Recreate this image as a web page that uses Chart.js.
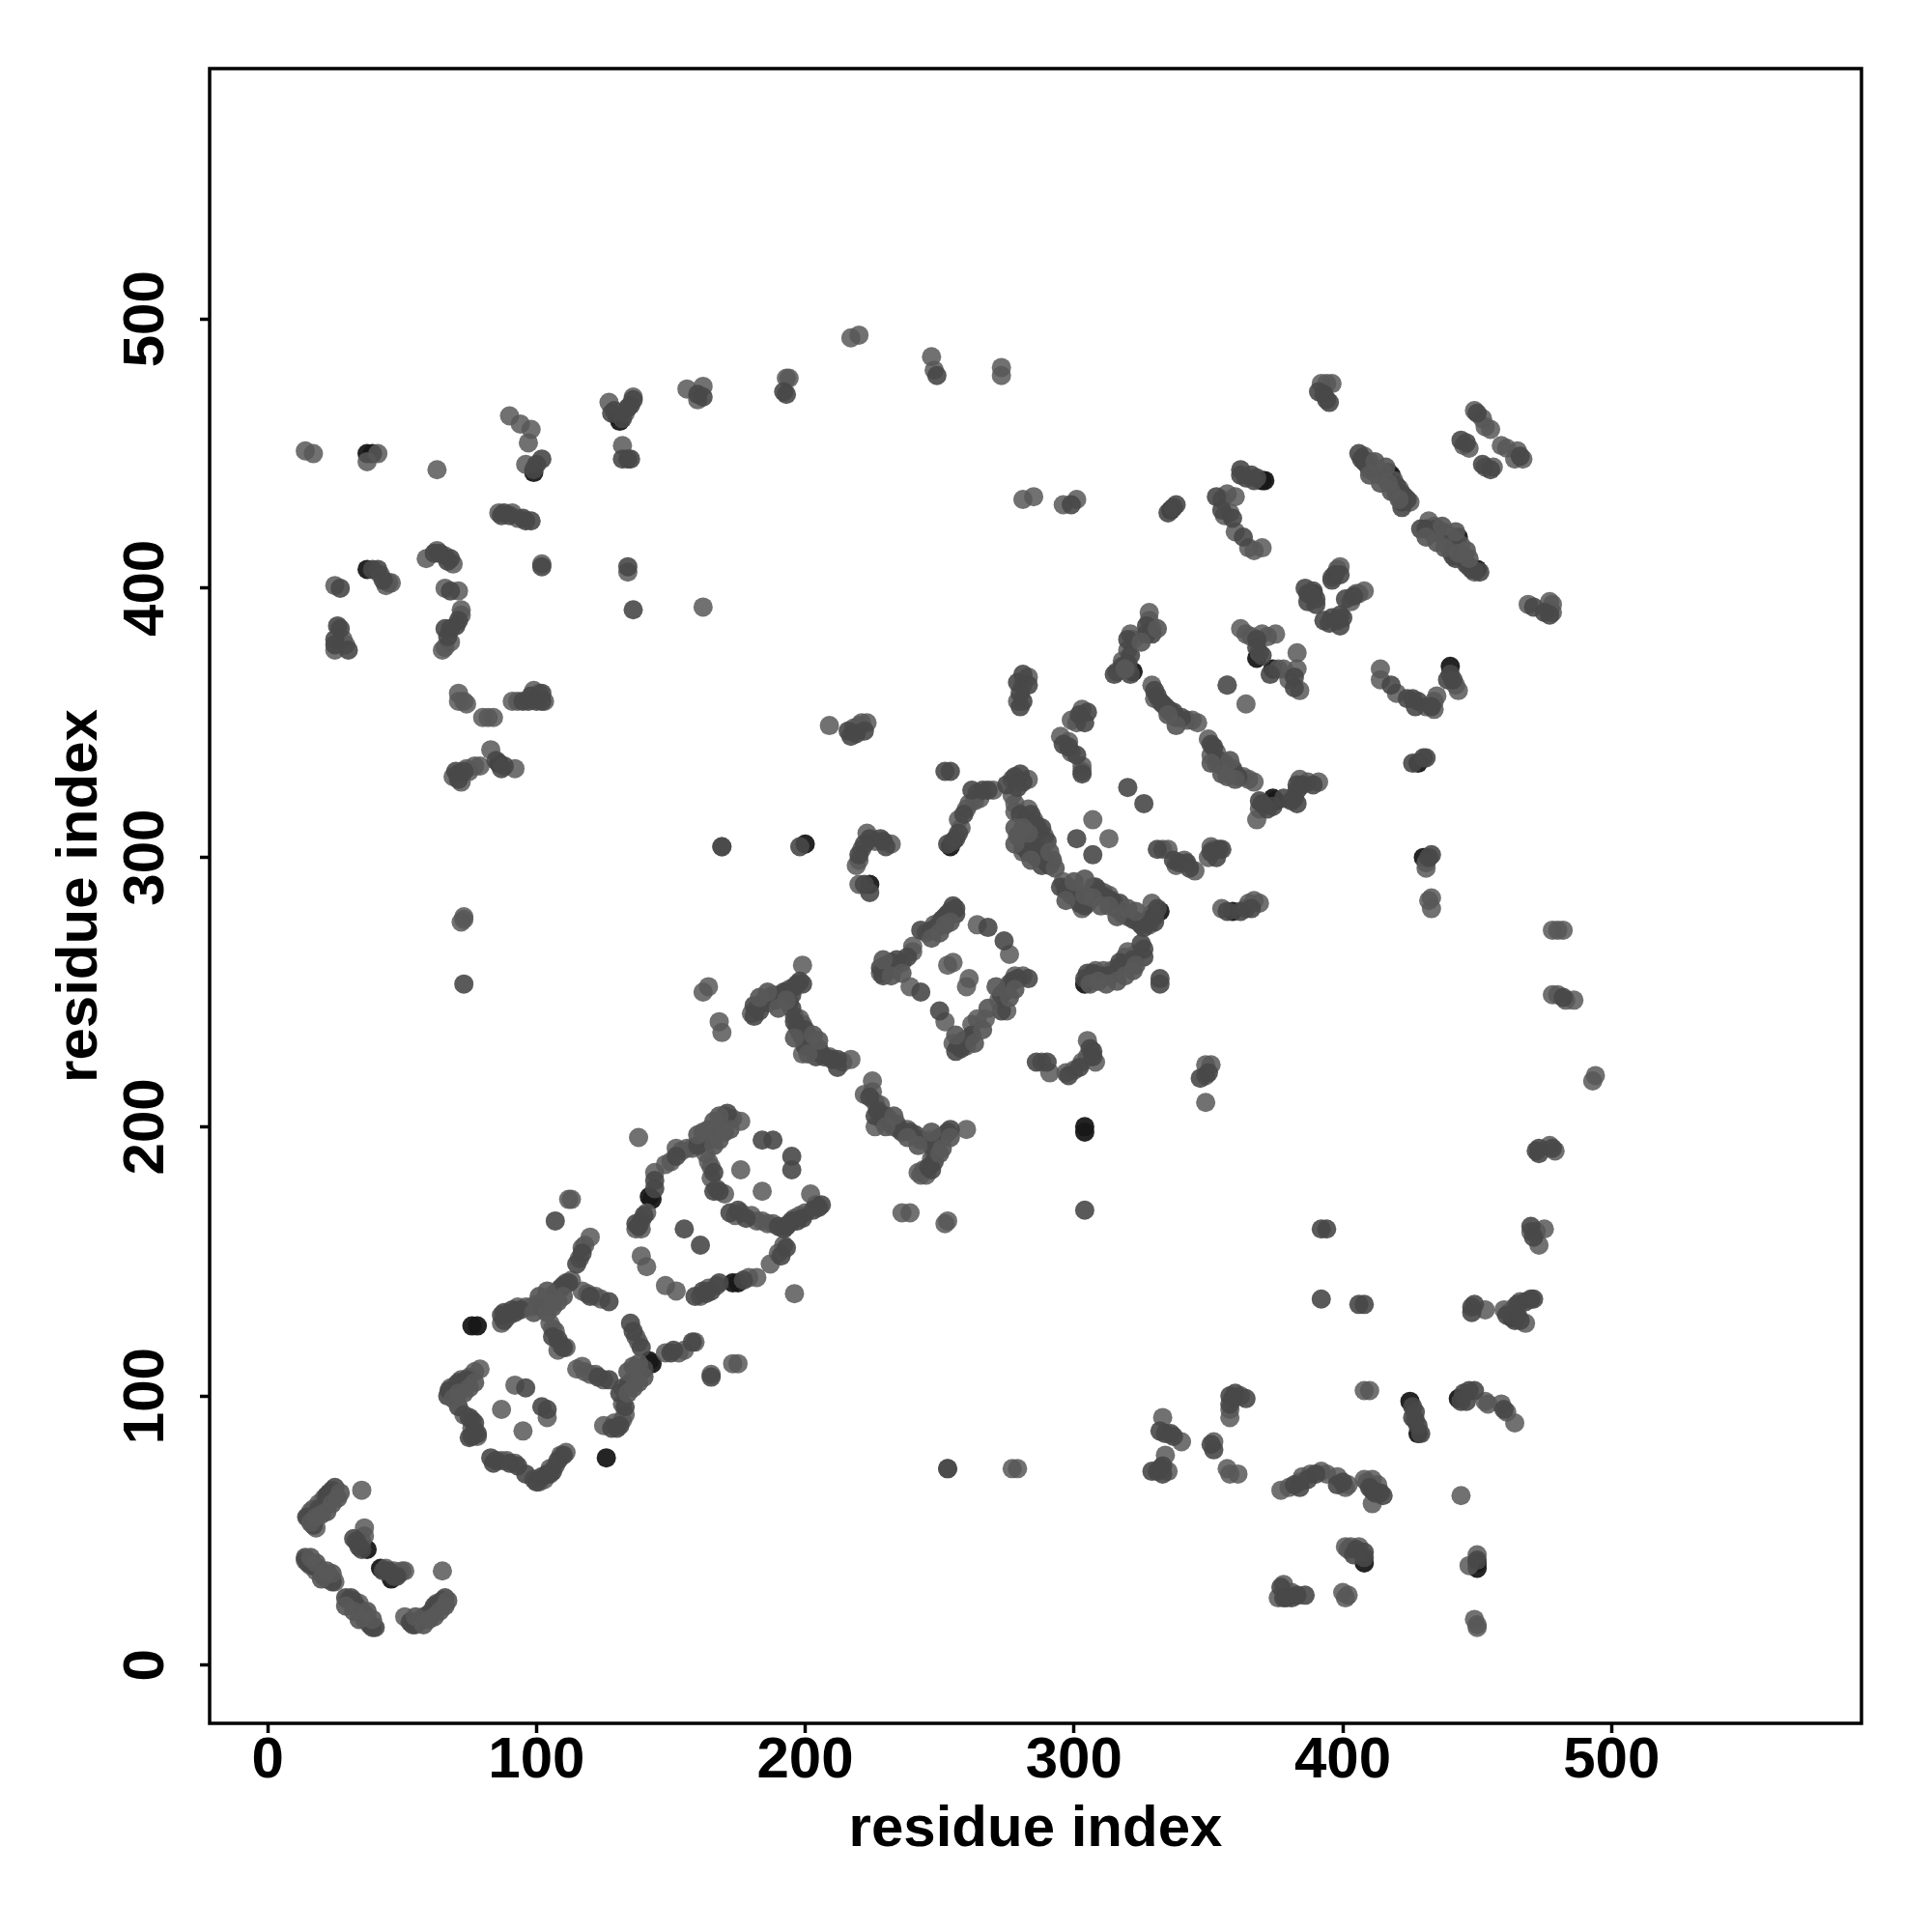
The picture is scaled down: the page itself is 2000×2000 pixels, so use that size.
<!DOCTYPE html>
<html>
<head>
<meta charset="utf-8">
<title>residue contacts</title>
<script src="https://cdn.jsdelivr.net/npm/chart.js@4"></script>
<style>
  html, body { margin: 0; padding: 0; background: #fff; }
  canvas { display: block; }
</style>
</head>
<body>
<canvas id="myChart" width="2000" height="2000"></canvas>
<script>
'use strict';

var tickValues = [0, 100, 200, 300, 400, 500];
var axisTitle = 'residue index';

// [residue i, residue j], by how dark the dot is
var contactsLight = [
  // bottom left
  [15,55],[16,57],[18,51],[17,58],[19,60],[20,59],[21,62],[23,62],[24,65],[35,65],[36,51],[36,48],[35,46],
  [44,36],[47,35],[49,34],[50,35],[51,35],[65,35],[14,39],[16,37],[18,35],[20,34],[22,32],[25,31],
  [30,24],[32,24],[34,23],[35,20],[37,17],[51,18],[55,15],[57,17],[59,18],[61,20],[63,23],
  // first box
  [79,110],[77,109],[75,107],[72,106],[70,104],[68,103],[73,93],[76,91],[76,88],[78,85],[92,104],[87,95],[104,92],[95,87],
  [87,76],[89,76],[92,75],[99,69],[101,68],[103,69],[105,73],[107,74],[109,78],[111,79],[125,89],[129,90],[132,91],[133,93],[132,97],
  [132,103],[135,105],[137,107],[148,116],[153,116],[155,117],[159,120],[175,112],[173,112],
  [137,122],[138,120],[115,110],[117,111],[118,109],[120,108],[122,108],[125,106],[105,127],[106,125],[107,124],[109,119],[111,118],[108,117],
  [87,127],[90,130],[93,133],[96,133],[98,133],[100,134],[103,136],[105,137],[108,139],[111,142],[113,143],
  [116,151],[117,155],[120,159],[118,156],[117,139],[119,138],[122,137],[124,136],[112,173],[113,173],
  // second box
  [144,183],[141,168],[139,165],[137,162],[139,162],[148,186],[150,187],[152,192],[154,191],[156,192],[158,192],
  [162,194],[165,197],[167,199],[172,203],[173,203],[176,202],[170,204],[163,190],[164,187],[165,185],[165,181],[167,177],[170,175],
  [139,152],[141,148],[148,141],[152,139],[161,137],[164,140],[167,141],[176,184],[184,176],[138,196],
  [174,167],[176,168],[180,167],[182,165],[184,165],[186,164],[188,164],[194,164],[196,166],[198,167],[200,168],[202,175],[204,171],
  [190,153],[192,156],[187,149],[196,138],[182,144],[179,144],[165,108],
  // chain between the boxes
  [164,252],[162,250],[168,239],[169,235],[180,242],[182,244],[184,246],[186,246],[188,249],[191,249],[194,251],[199,260],[197,253],
  [196,241],[198,240],[199,238],[199,233],[201,231],[203,230],[199,227],[206,227],[209,226],[217,225],[214,224],
  [225,217],[222,212],[225,213],[226,209],[228,208],[226,200],[229,202],[231,203],[233,200],[235,199],[238,199],
  [246,195],[248,194],[251,196],[260,199],[248,190],[247,188],[244,184],[243,182],[245,182],[242,183],[236,168],[239,168],[252,164],[253,165],
  // diamond
  [228,257],[231,258],[233,259],[236,261],[240,265],[240,267],[245,272],[248,275],[250,276],[252,278],[264,275],[276,264],[253,260],[255,261],
  [261,255],[260,252],[239,252],[252,239],[281,256],[278,256],[276,253],[274,250],[272,247],[275,243],[267,240],[264,240],[262,238],[260,230],[255,231],
  [288,224],[291,220],[297,220],[300,221],[303,224],[305,232],[305,226],[308,224],[349,223],[351,223],[349,219],[349,209],
  [209,349],[218,348],[220,349],[221,350],[223,350],[223,309],[226,306],[232,305],[219,297],[220,299],[221,303],[220,290],
  [258,311],[257,314],[260,318],[261,320],[263,321],[264,324],[265,322],[270,325],[277,329],[283,329],[277,323],[278,320],[278,317],
  [283,318],[285,314],[287,310],[289,308],[282,306],[281,302],[285,304],[307,314],[313,307],
  [303,355],[299,351],[301,350],[295,345],[298,343],[299,339],[303,334],[303,332],[281,364],[283,367],[279,358],
  [329,364],[330,359],[332,358],[334,356],[342,351],[344,351],[346,350],[350,344],[351,338],[353,339],[360,331],[363,330],[365,329],[367,328],[357,364],[364,357],
  [296,291],[298,289],[300,288],[303,281],[306,287],[307,289],[309,288],[311,287],[313,286],[315,283],[318,279],[320,278],[325,275],[329,279],[329,283],[328,275],
  [308,258],[311,258],[314,258],[316,259],[319,263],[320,265],[323,264],[333,303],[335,303],[338,297],[341,299],[345,295],[350,300],[352,303],[351,304],
  [355,281],[364,281],[365,283],[367,284],[369,283],
  // top right
  [392,476],[394,476],[396,476],[449,466],[452,463],[453,460],[455,459],[445,453],[447,452],[453,445],[456,445],[459,453],[461,452],[465,451],[464,448],[467,448],
  [408,449],[410,447],[411,445],[413,444],[415,443],[419,440],[421,437],[423,434],[425,432],[432,425],[434,423],[436,420],[438,419],[440,418],[444,416],[445,411],[447,408],[449,406],
  [355,433],[357,435],[360,434],[356,427],[358,428],[360,421],[367,414],[370,415],[365,415],
  [396,404],[398,407],[399,408],[403,395],[405,398],[408,399],[406,398],[469,394],[477,395],[477,392],[478,394],[478,391],
  [362,385],[364,383],[366,382],[370,383],[372,382],[375,383],[369,376],[376,370],[378,370],[383,370],[383,376],[380,366],[384,362],[357,364],
  [414,370],[414,366],[420,361],[431,356],[434,355],[434,358],[435,360],[443,362],[442,364],
  [384,329],[387,328],[391,328],[369,318],[368,314],[431,296],[431,298],[433,285],[432,284],[433,281],[478,273],[480,273],[482,273],
  [478,249],[480,249],[483,247],[486,247],[493,217],[494,219],[477,193],[479,191],[470,161],[472,161],[473,156],[475,162],
  // bottom right
  [453,132],[460,132],[462,131],[464,133],[466,135],[468,127],[408,102],[410,102],[453,98],[454,97],[459,97],[461,94],[464,90],
  [358,92],[358,95],[362,100],[333,92],[340,83],[352,83],[357,73],[358,71],[361,71],[334,78],[335,72],
  [377,65],[380,66],[384,68],[385,70],[388,71],[392,72],[394,71],[398,70],[401,66],[402,67],[408,69],[409,68],[411,69],[413,67],[411,60],[444,63],
  [401,44],[403,44],[406,44],[402,43],[400,27],[401,25],[402,26],[378,30],[376,25],[381,27],[450,41],[447,37],[449,17],[450,15],[450,14],
  [253,73],[277,73],[279,73],
  // top left
  [14,451],[17,450],[37,447],[41,450],[63,444],[90,464],[94,461],[98,459],[97,454],[96,446],[86,428],[91,428],[93,426],[102,409],
  [134,406],[162,393],[127,469],[133,465],[136,471],[132,453],[156,474],[162,475],[160,470],[193,478],[194,478],[217,493],[220,494],
  [247,486],[248,481],[273,482],[273,479],[281,433],[285,434],[296,431],[301,433],
  [59,411],[63,414],[66,412],[69,409],[66,400],[71,399],[72,392],[72,390],[65,377],[66,378],[68,380],[42,405],[45,402],[44,401],[46,402],[25,401],
  [28,381],[25,377],[29,379],[71,361],[71,358],[73,358],[74,357],[80,352],[82,352],[84,352],[91,358],[93,358],[99,362],[101,361],[103,358],
  [83,340],[92,333],[72,328],[74,333],[77,334],[79,334],[69,330],[75,332],[73,277],[73,278],[72,276],[169,304],[328,391],[328,388],[329,385],[321,383],[322,381],[320,377],[316,369],[318,373]
];

// dots on the outer edge of the wide streaks
var contactsEdge = [
  [16,53],[18,55],[20,56],[22,57],[24,60],[26,62],[27,64],[55,18],[58,15],[60,17],[62,18],[64,20],[66,22],[67,24],
  [16,40],[18,38],[20,32],[22,35],[24,34],[29,22],[32,20],[34,17],[37,20],[39,17],
  [69,99],[71,101],[73,101],[75,103],[77,105],[99,131],[101,137],[104,131],[106,133],[108,135],[110,137],[104,139],
  [134,101],[136,103],[138,105],[140,107],[134,109],[136,111],[138,112],
  [160,197],[162,198],[164,199],[166,202],[168,204],[166,193],[168,195],[170,198],[172,199],
  [232,256],[236,257],[229,262],[252,275],[254,276],[247,270],[250,272],[276,248],[278,251],[271,252],[268,244],[263,231],[266,236],[256,234],
  [183,248],[186,250],[190,244],[193,247],[201,227],[203,234],[205,232],[196,233],
  [230,200],[233,204],[238,196],[242,193],[247,198],[251,192],[254,196],[250,190],
  [278,311],[281,311],[283,309],[279,308],[284,299],[291,302],[293,296],[278,305],
  [297,284],[300,291],[304,286],[307,285],[310,282],[313,282],[316,278],[320,281],[323,280],[304,292],
  [306,253],[309,254],[312,253],[316,254],[319,256],[322,258],[323,260],
  [410,442],[412,447],[414,439],[417,439],[418,436],[421,433],[416,445],
  [431,419],[435,417],[438,415],[443,413],[437,423],[442,421],[446,414],[447,411],
  [335,353],[338,349],[351,335],[355,331],[357,330],[360,329],[358,336],[319,370],[325,380],[331,385]
];

var contactsMid = [
  [14.5,55],[17,52],[19,58],[22,63],[25,66],[23,64],[32,47],[33,46],[34,44],[35,43],[43,35],[45,35],[47,33],[48,33],[14,40],[15,38],[17,37],[19,36],[21,33],[23,33],[24,31],
  [29,25],[31,25],[33,22],[34,20],[36,19],[36,17],[38,15],[39,14],[40,14],[53,16],[54,15],[56,16],[58,18],[60,19],[62,21],[62,22],[64,23],[65,24],[66,25],[65,22],
  [67,100],[67.5,102],[69,102],[71,105],[73,104],[74,106],[71,96],[75,92],[77,90],[77,87],[78,86],[76,85],[75,84.5],[96,103],[102,96],[104,95],
  [83,77],[84,75],[85,76],[90,75],[93,74],[96,71],[100,68],[102,70],[104,71],[105,71],[106,72],[108,76],[110,78],
  [128,88],[130,88],[131,89],[133,96],[131,101],[134,104],[136,106],[138,108],[139,109],[140,110],[150,116],[151,117],[165,107],[135,127],[136,124],[139,118],
  [123,107],[127,106],[106,122],[108,121],[110,118],[87,130],[88,128],[88,131],[91,132],[92,131],[94,132],[102,133],[104,135],[106,136],[107,138],[109,140],[110,141],[112,142],
  [115,149],[117,153],[120,137],[127,135],[107,165],[144,180],[144,177],[140,167],[138,163],[137,164],[152,189],[160,193],[163,196],[164,195],[166,198],[168,200],[169,202],[171,205],
  [166,183],[168,176],[166,176],[155,162],[161,156],[159,137],[162,139],[163,138],[165,139],[168,142],[177,143],[172,168],[175,169],[178,166],[190,163],[192,162],[193,163],[195,165],[197,165],[199,166],[203,169],[205,170],[206,171],
  [184,195],[188,195],[195,189],[195,184],[193,155],[191,152],[158,120],
  [181,241],[181,245],[183,243],[185,247],[187,248],[189,247],[190,248],[192,250],[193,250],[195,249],[196,252],[198,254],[199,253],[194,246],[195,244],[196,239],[197,237],[198,235],[200,236],[202,233],[200,230],[204,228],[205,229],[204,226],[207,226],[210,225],[212,225],[212,222],
  [224,211],[227,206],[228,204],[226,204],[230,204],[232,201],[234,201],[236,198],[239,198],[241,197],[243,195],[247,193],[249,195],[250,196],[252,197],[253,198],[254,199],[248,187],[246,185],[247,184],[304,169],
  [228,259],[229,256],[230,260],[232,261],[234,262],[238,263],[243,273],[247,273],[249,274],[251,277],[253,279],[254,280],[255,282],[256,281],[256,279],[268,274],[274,269],[243,250],[250,243],
  [283,255],[279,255],[277,254],[275,251],[273,249],[273,243],[262,234],[261,233],[259,232],[258,229],[256,228],[257,230],
  [286,224],[290,224],[298,219],[302,222],[306,229],[307,228],[307,226],[347,218],[350,220],[216,347],[217,345],[219,346],[222,347],[169,304],[198,304],
  [220,301],[222,305],[224,307],[228,307],[229,306],[230,304],[222,290],[224,287],[252,332],[254,332],[253,305],[255,306],[256,307],[257,309],[259,316],[262,325],[266,325],[268,325],
  [275,327],[278,330],[280,331],[281,328],[279,326],[280,316],[282,314],[284,316],[286,312],[288,311],[290,306],[281,304],[283,302],[284,305],[286,302],[287,300],[288,302],[289,299],[290,298],[291,297],[292,299],[288,297],[286,300],
  [301,307],[307,301],[320,326],[326,320],[302,353],[305,354],[304,350],[296,342],[298,341],[301,338],[303,331],[281,368],[279,365],[280,361],[280,356],[281,358],[283,364],
  [330,362],[331,360],[333,357],[335,355],[336,354],[337,354],[338,352],[340,352],[351,342],[352,341],[353,335],[354,336],[355,334],[356,335],[357,333],[358,332],[359,333],[361,330],
  [295,289],[297,288],[299,286],[301,285],[302,283],[304,282],[305,283],[308,289],[310,286],[312,285],[314,284],[316,281],[317,283],[319,279],[322,277],[324,276],[326,274],[327,276],[328,277],[330,278],[331,281],[330,276],
  [304,255],[305,257],[307,257],[310,256],[313,256],[315,257],[317,261],[318,260],[322,262],[325,268],[326,266],[326,263],[332,255],[332,253],[331,303],[337,299],[339,298],[342,298],[343,296],[351,302],[353,300],[354,303],[355,303],[357,280],[362,280],[366,281],
  [391,473],[393,472],[394,470],[395,469],[450,465],[444,455],[446,454],[452,446],[455,444],[466,449],[406,450],[407,448],[408,447],[409,446],[410,444],[412,443],[414,442],[416,441],[420,438],[420,435],[422,435],[422,432],[424,433],[422,430],
  [429,422],[431,422],[433,421],[435,422],[437,421],[439,420],[441,418],[440,414],[441,412],[442,411],[444,412],[446,409],[448,407],[451,406],
  [335,428],[337,430],[338,431],[362,442],[362,444],[364,441],[366,442],[367,440],[368,441],[353,434],[355,429],[359,426],[363,419],
  [386,400],[387,398],[387,395],[389,399],[390,396],[390,394],[401,396],[404,397],[393,388],[395,387],[396,389],[398,388],[399,386],[400,389],[399,390],[396,403],[397,405],[399,405],
  [471,393],[473,192],[475,391],[477,390],[368,381],[368,378],[370,375],[373,368],[382,367],[382,363],[418,364],[424,359],[426,359],[428,358],[427,356],[433,356],[440,368],[439,366],[441,366],
  [369,321],[370,320],[372,318],[374,319],[378,322],[381,321],[382,322],[383,320],[383,325],[383,327],[385,327],[389,327],[433,301],[432,300],
  [482,248],[472,191],[473,190],[478,192],[470,163],[471,159],
  [392,162],[394,162],[392,136],[406,134],[408,134],[448,133],[449,134],[448,131],[461,130],[464,128],[465,130],[466,128],[465,134],[468,135],[470,136],[471,136],
  [426,96],[427,94],[426,92],[427,91],[428,89],[429,86],[444,98],[445,101],[446,98],[447,102],[449,102],[460,95],[358,100],[359,99],[360,101],[364,99],[358,97],
  [332,87],[334,86],[336,86],[337,85],[352,80],[351,82],[333,74],[332,73],[331,72],[329,72],[333,71],
  [382,67],[384,66],[387,69],[390,71],[398,67],[400,68],[410,66],[411,65],[412,64],[414,64],[415,63],[404,41],[405,43],[408,42],[408,40],[377,29],[378,25],[379,25],[381,25],[383,26],[386,26],[450,39],[253,73],
  [87,427],[88,428],[90,427],[95,426],[96,425],[98,425],[102,448],[100,446],[99,444],[102,408],[134,408],[136,392],[128,465],[129,466],[132,463],[134,467],[135,468],[136,470],[132,448],[134,448],[135,448],
  [160,472],[162,471],[192,473],[193,472],[249,479],[299,431],
  [62,413],[64,413],[67,410],[68,411],[68,399],[71,388],[70,386],[68,385],[66,385],[67,382],[39,407],[41,407],[43,403],[27,400],[26,386],[27,385],[25,381],[25,379],[30,377],
  [95,358],[97,358],[98,360],[100,358],[102,358],[102,361],[85,336],[87,333],[88,334],[70,332],[71,329],[73,332],[73,253],
  [327,386],[327,383],[329,383],[320,381],[321,375],[320,372],[315,368],[320,370],[321,368],[318,371],
  [426,335],[430,337],[431,337]
];

var contactsDark = [
  [37,43],[42,36],[46,32],[76,126],[78,126],[126,77],[143,112],[142,113],[142,174],[143,173],[173,142],[175,142],
  [200,305],[224,290],[254,304],[304,200],[304,198],[304,253],[332,280],[336,429],
  [37,450],[39,450],[99,443],[130,464],[131,462],[37,407],[71,331],[86,335],
  [371,440],[370,440],[417,443],[418,442],[442,418],[443,419],[450,407],[389,398],[368,374],[374,370],[374,322],[375,321],
  [440,371],[428,335],[430,300],[359,280],[322,369],[425,98],[428,86],[443,99],[463,129],[408,38],[450,38],[450,36]
];

function toPoints(list) {
  return list.map(function (p) { return { x: p[0], y: p[1] }; });
}

var chartData = {
  datasets: [
    { data: toPoints(contactsEdge), backgroundColor: 'rgba(88,88,88,0.92)' },
    { data: toPoints(contactsMid), backgroundColor: 'rgba(72,72,72,0.9)' },
    { data: toPoints(contactsLight), backgroundColor: 'rgba(88,88,88,0.85)' },
    { data: toPoints(contactsDark), backgroundColor: 'rgba(24,24,24,0.95)' }
  ]
};

// R style box round the plot
var boxPlugin = {
  id: 'boxPlugin',
  afterDraw: function (chart) {
    var a = chart.chartArea, ctx = chart.ctx;
    ctx.save();
    ctx.strokeStyle = '#000';
    ctx.lineWidth = 3.5;
    ctx.strokeRect(a.left, a.top, a.right - a.left, a.bottom - a.top);
    ctx.restore();
  }
};

function setTicks(scale) {
  scale.ticks = tickValues.map(function (v) { return { value: v }; });
}

var tickFont = { family: '"Liberation Sans"', size: 60, weight: 'bold' };
var titleFont = { family: '"Liberation Sans"', size: 60, weight: 'bold' };

var axisGrid = { drawOnChartArea: false, drawTicks: true, tickLength: 10, tickWidth: 3.5, tickColor: '#000' };

new Chart(document.getElementById('myChart'), {
  type: 'scatter',
  data: chartData,
  options: {
    responsive: false,
    animation: false,
    layout: { padding: { top: 71, right: 73, left: 0, bottom: 0 } },
    elements: { point: { radius: 10, borderWidth: 0, hoverRadius: 10 } },
    plugins: { legend: { display: false }, tooltip: { enabled: false } },
    scales: {
      x: {
        type: 'linear', min: -21.6, max: 593,
        afterBuildTicks: setTicks,
        afterFit: function (s) { s.height = 216; },
        border: { display: false },
        grid: axisGrid,
        ticks: { font: tickFont, color: '#000', padding: -7, maxRotation: 0, autoSkip: false },
        title: { display: true, text: axisTitle, font: titleFont, color: '#000', padding: { top: 0, bottom: 70 } }
      },
      y: {
        type: 'linear', min: -21.6, max: 593,
        afterBuildTicks: setTicks,
        afterFit: function (s) { s.width = 217; },
        border: { display: false },
        grid: axisGrid,
        ticks: { font: tickFont, color: '#000', padding: 4, minRotation: 90, maxRotation: 90, crossAlign: 'center', autoSkip: false },
        title: { display: true, text: axisTitle, font: titleFont, color: '#000', padding: { top: 47, bottom: 0 } }
      }
    }
  },
  plugins: [boxPlugin]
});
</script>
</body>
</html>
